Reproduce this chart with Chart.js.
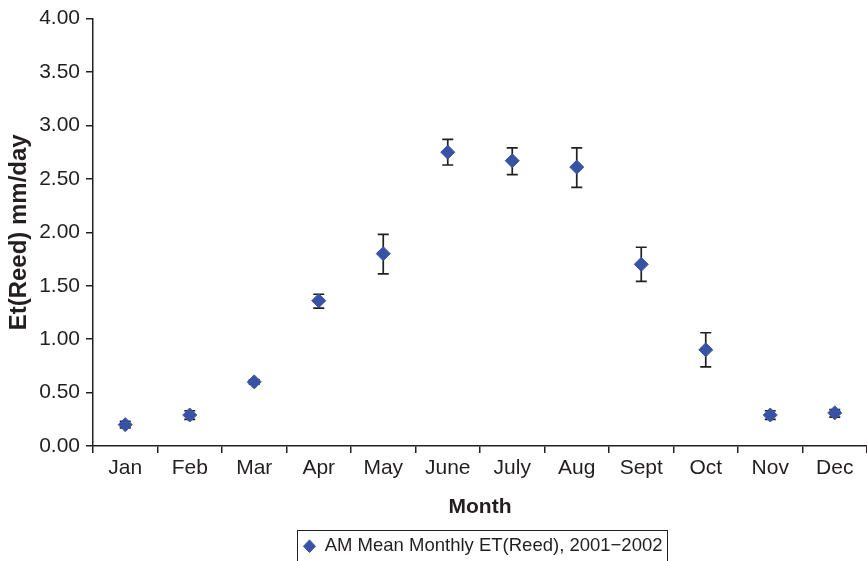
<!DOCTYPE html>
<html lang="en">
<head>
  <meta charset="UTF-8">
  <title>AM Mean Monthly ET(Reed)</title>
  <script src="https://cdn.jsdelivr.net/npm/chart.js"></script>
  <style>
    html, body {
      margin: 0;
      padding: 0;
      background: #ffffff;
      overflow: hidden;
    }
    .wrap {
      width: 867px;
      height: 561px;
    }
  </style>
</head>
<body>
<div class="wrap">
  <canvas id="chart1" width="867" height="561"></canvas>
</div>
<script>
  // data
  const months = ['Jan', 'Feb', 'Mar', 'Apr', 'May', 'June', 'July', 'Aug', 'Sept', 'Oct', 'Nov', 'Dec'];
  const meanET = [0.20, 0.29, 0.60, 1.36, 1.80, 2.75, 2.67, 2.61, 1.70, 0.90, 0.29, 0.31];
  const errTop = [0.23, 0.33, 0.62, 1.42, 1.98, 2.87, 2.79, 2.79, 1.86, 1.06, 0.33, 0.34];
  const errBottom = [0.17, 0.25, 0.58, 1.29, 1.61, 2.63, 2.54, 2.42, 1.54, 0.74, 0.25, 0.27];
  const yTicks = [0, 0.5, 1, 1.5, 2, 2.5, 3, 3.5, 4];

  const FONT = '"Liberation Sans", Arial, Helvetica, sans-serif';
  const INK = '#231f20';
  const BLUE = '#3953a4';

  // error bars, drawn under the points
  const errorBars = {
    id: 'errorBars',
    beforeDatasetsDraw(chart) {
      const ctx = chart.ctx;
      const xs = chart.scales.x, ys = chart.scales.y;
      ctx.save();
      ctx.strokeStyle = INK;
      ctx.lineWidth = 1.7;
      months.forEach((m, i) => {
        const x = xs.getPixelForValue(i);
        const yt = ys.getPixelForValue(errTop[i]);
        const yb = ys.getPixelForValue(errBottom[i]);
        ctx.beginPath();
        ctx.moveTo(x, yt); ctx.lineTo(x, yb);
        ctx.moveTo(x - 5.5, yt); ctx.lineTo(x + 5.5, yt);
        ctx.moveTo(x - 5.5, yb); ctx.lineTo(x + 5.5, yb);
        ctx.stroke();
      });
      ctx.restore();
    }
  };

  // legend sits under the plot area, in a thin frame
  const legendFrame = {
    id: 'legendFrame',
    afterLayout(chart) {
      const lg = chart.legend, ca = chart.chartArea;
      lg.left = ca.left + 6;
      lg.right = ca.right;
      lg.width = lg.right - lg.left;
      lg.top += 4.5;
      lg.bottom += 4.5;
    },
    afterDraw(chart) {
      const box = chart.legend.legendHitBoxes[0];
      if (!box) return;
      const ctx = chart.ctx;
      ctx.save();
      ctx.strokeStyle = INK;
      ctx.lineWidth = 1;
      ctx.strokeRect(Math.round(box.left - 6) + 0.5, Math.round(box.top - 7) + 0.5,
                     Math.round(box.width + 11), 40);
      ctx.restore();
    }
  };

  new Chart(document.getElementById('chart1').getContext('2d'), {
    type: 'line',
    data: {
      labels: months,
      datasets: [{
        label: 'AM Mean Monthly ET(Reed), 2001\u22122002',
        data: meanET,
        showLine: false,
        pointStyle: 'rectRot',
        pointRadius: 7,
        pointHoverRadius: 7,
        pointBackgroundColor: BLUE,
        pointBorderColor: BLUE,
        pointBorderWidth: 1,
        backgroundColor: BLUE,
        borderColor: BLUE
      }]
    },
    options: {
      responsive: false,
      animation: false,
      layout: { autoPadding: false, padding: { top: 18, right: 0, left: 0, bottom: 0 } },
      plugins: {
        tooltip: { enabled: false },
        legend: {
          position: 'bottom',
          labels: {
            usePointStyle: true,
            pointStyle: 'rectRot',
            boxHeight: 9,
            pointStyleWidth: 12,
            color: INK,
            padding: 2,
            font: { family: FONT, size: 18.5 }
          }
        }
      },
      scales: {
        x: {
          offset: true,
          afterFit(scale) {
            scale.height = 84.5;
            scale.paddingLeft = 0;
            scale.paddingRight = 0;
          },
          grid: {
            offset: true,
            drawOnChartArea: false,
            drawTicks: true,
            tickLength: 7,
            color: INK,
            lineWidth: 1.5
          },
          border: { display: true, color: INK, width: 1.5 },
          ticks: { color: INK, padding: 3, font: { family: FONT, size: 21 } },
          title: {
            display: true,
            text: 'Month',
            color: INK,
            font: { family: FONT, size: 21, weight: 'bold' },
            padding: { top: 4, bottom: 11 }
          }
        },
        y: {
          min: 0,
          max: 4,
          afterFit(scale) { scale.width = 93; },
          afterBuildTicks(scale) {
            scale.ticks = yTicks.map(v => ({ value: v }));
          },
          grid: {
            drawOnChartArea: false,
            drawTicks: true,
            tickLength: 7,
            color: INK,
            lineWidth: 1.5
          },
          border: { display: true, color: INK, width: 1.5 },
          ticks: {
            color: INK,
            padding: 6,
            font: { family: FONT, size: 21 },
            callback: v => Number(v).toFixed(2)
          },
          title: {
            display: true,
            text: 'Et(Reed) mm/day',
            color: INK,
            font: { family: FONT, size: 24, weight: 'bold' },
            padding: { top: 5, bottom: 3 }
          }
        }
      }
    },
    plugins: [errorBars, legendFrame]
  });
</script>
</body>
</html>
